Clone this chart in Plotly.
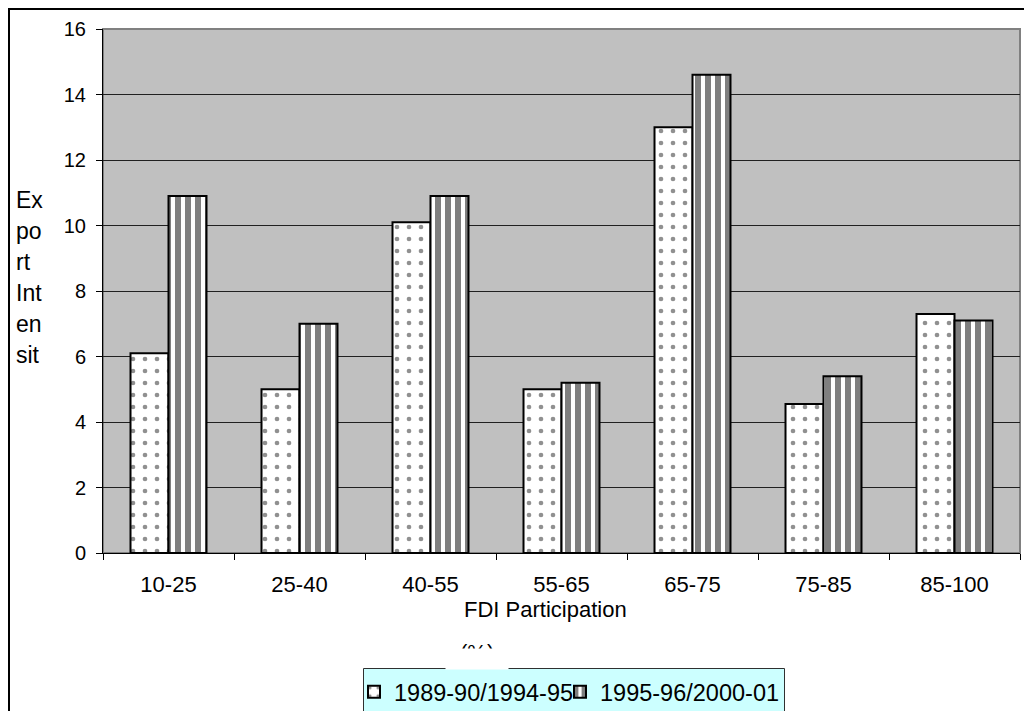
import plotly.graph_objects as go

categories = ["10-25", "25-40", "40-55", "55-65", "65-75", "75-85", "85-100"]
series1_name = "1989-90/1994-95"
series2_name = "1995-96/2000-01"
series1 = [6.1, 5.0, 10.1, 5.0, 13.0, 4.55, 7.3]
series2 = [10.9, 7.0, 10.9, 5.2, 14.6, 5.4, 7.1]
ytitle_lines = ["Ex", "po", "rt", "Int", "en", "sit"]

# page has an 8px body margin; work in page coordinates and convert
OFF = 8
W, H = 1024, 703
# desired plot area in page coords: x 103..1020, y 29..553
L, R = 103 - OFF, W - (1020 - OFF)
T, B = 29 - OFF, H - (553 - OFF)
pw, ph = W - L - R, H - T - B

def px(x):
    return (x - OFF - L) / pw

def py(y):
    return (H - B - (y - OFF)) / ph

FONT = "Liberation Sans, Arial, sans-serif"

fig = go.Figure()
fig.add_trace(go.Bar(
    x=categories, y=series1, name=series1_name, legend="legend",
    marker=dict(color="white", line=dict(color="black", width=2),
                pattern=dict(shape=".", fgcolor="#222222", bgcolor="white", size=12, solidity=0.12)),
))
fig.add_trace(go.Bar(
    x=categories, y=series2, name=series2_name, legend="legend2",
    marker=dict(color="white", line=dict(color="black", width=2),
                pattern=dict(shape="|", fgcolor="black", bgcolor="white", size=10, solidity=0.6)),
))

shapes = [
    dict(type="rect", xref="paper", yref="paper", x0=0, x1=1, y0=0, y1=1,
         line=dict(color="#808080", width=2), layer="below"),
    dict(type="line", xref="paper", yref="paper", x0=px(8.5), x1=px(8.5), y0=py(8), y1=py(730),
         line=dict(color="black", width=3)),
    dict(type="line", xref="paper", yref="paper", x0=px(7), x1=px(1050), y0=py(8.5), y1=py(8.5),
         line=dict(color="black", width=3)),
    # legend box
    dict(type="rect", xref="paper", yref="paper", x0=px(363.5), x1=px(784.5), y0=py(668.5), y1=py(730),
         fillcolor="#CCFFFF", line=dict(color="#303030", width=1), layer="below"),
]

annotations = []
baselines = [210, 241, 272, 303, 334, 365]
for txt, bl in zip(ytitle_lines, baselines):
    annotations.append(dict(text=txt, xref="paper", yref="paper", x=px(14), y=py(bl + 5),
                            xanchor="left", yanchor="bottom", showarrow=False,
                            font=dict(family=FONT, size=23, color="black")))
annotations.append(dict(text="FDI Participation", xref="paper", yref="paper", x=px(545), y=py(609),
                        xanchor="center", yanchor="middle", showarrow=False,
                        font=dict(family=FONT, size=22, color="black")))
annotations.append(dict(text="(%)", xref="paper", yref="paper", x=px(477), y=py(638),
                        xanchor="center", yanchor="top", showarrow=False,
                        font=dict(family=FONT, size=22, color="black")))
annotations.append(dict(text=" ", xref="paper", yref="paper", x=px(477), y=py(648),
                        xanchor="center", yanchor="top", showarrow=False, bgcolor="white",
                        width=60, height=18, font=dict(size=10)))

legend_common = dict(orientation="h", xanchor="left", yanchor="top", y=py(670),
                     bgcolor="rgba(0,0,0,0)", borderwidth=0,
                     font=dict(family=FONT, size=23.5, color="black"),
                     itemwidth=30, tracegroupgap=0)

fig.update_layout(
    width=W, height=H,
    margin=dict(l=L, r=R, t=T, b=B, pad=0, autoexpand=False),
    paper_bgcolor="white", plot_bgcolor="#C0C0C0",
    barmode="group", bargap=0.42, bargroupgap=0,
    font=dict(family=FONT, size=20, color="black"),
    showlegend=True,
    legend=dict(x=px(354), **legend_common),
    legend2=dict(x=px(560), **legend_common),
    xaxis=dict(showgrid=False, showline=True, linecolor="black", linewidth=1,
               ticks="outside", tickson="boundaries", ticklen=6, tickcolor="black",
               tickfont=dict(family=FONT, size=22), ticklabelstandoff=12),
    yaxis=dict(range=[0, 16], dtick=2, showgrid=True, gridcolor="#202020", gridwidth=1,
               showline=True, linecolor="black", linewidth=1, zeroline=False,
               ticks="outside", ticklen=6, tickcolor="black",
               tickfont=dict(family=FONT, size=20), ticklabelstandoff=6),
    shapes=shapes, annotations=annotations,
)

fig.write_html("out.html")
